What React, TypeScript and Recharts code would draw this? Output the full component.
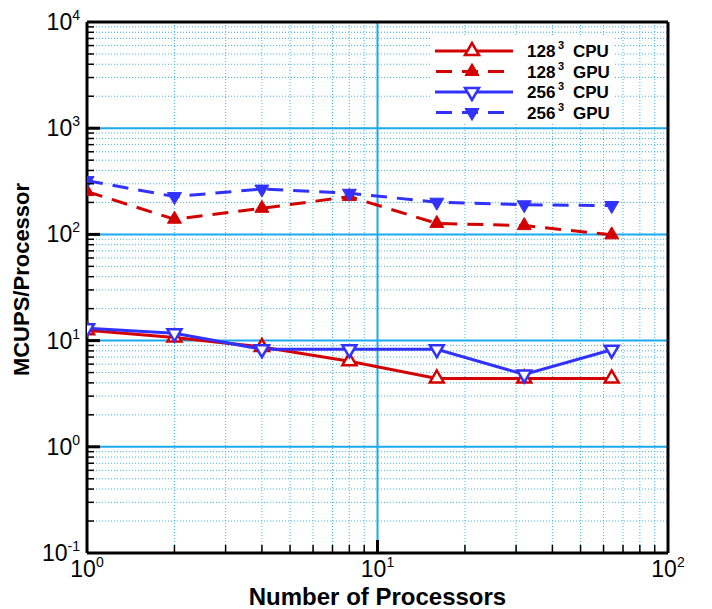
import React from 'react';
import { LineChart, Line, XAxis, YAxis, CartesianGrid } from 'recharts';

// values (log-log plot)
const processors = [1, 2, 4, 8, 16, 32, 64];
const cpu128 = [12.5, 10.7, 8.7, 6.4, 4.4, 4.4, 4.4];
const gpu128 = [253, 139, 176, 227, 127, 121, 99];
const cpu256 = [13.1, 11.7, 8.3, 8.3, 8.3, 4.8, 8.2];
const gpu256 = [321, 227, 267, 244, 201, 190, 187];

const xMajor = [1, 10, 100];
const xMinor = [2, 3, 4, 5, 6, 7, 8, 9, 20, 30, 40, 50, 60, 70, 80, 90];
const xInnerMajor = [10];
const yMajor = [0.1, 1, 10, 100, 1000, 10000];
const yInnerMajor = [1, 10, 100, 1000];
const yMinor = [
  0.2, 0.3, 0.4, 0.5, 0.6, 0.7, 0.8, 0.9,
  2, 3, 4, 5, 6, 7, 8, 9,
  20, 30, 40, 50, 60, 70, 80, 90,
  200, 300, 400, 500, 600, 700, 800, 900,
  2000, 3000, 4000, 5000, 6000, 7000, 8000, 9000,
];
const xAllTicks = [...xMajor, ...xMinor];
const yAllTicks = [...yMajor, ...yMinor];

const legendItems = [
  { size: '128', kind: 'CPU', color: '#d40000', dashed: false, up: true, filled: false },
  { size: '128', kind: 'GPU', color: '#d40000', dashed: true, up: true, filled: true },
  { size: '256', kind: 'CPU', color: '#3232ff', dashed: false, up: false, filled: false },
  { size: '256', kind: 'GPU', color: '#3232ff', dashed: true, up: false, filled: true },
];

const data = processors.map((p, i) => ({
  p,
  cpu128: cpu128[i],
  gpu128: gpu128[i],
  cpu256: cpu256[i],
  gpu256: gpu256[i],
}));

const RED = '#d40000';
const BLUE = '#3232ff';
const GRID = '#1aa9ee';
const GRID_MINOR = '#3db6f2';
const FONT = '"Liberation Sans", Arial, Helvetica, sans-serif';
const DASH = '16 10';

const triPoints = (cx: number, cy: number, up: boolean) =>
  up
    ? `${cx},${cy - 8} ${cx - 7},${cy + 4} ${cx + 7},${cy + 4}`
    : `${cx},${cy + 8} ${cx - 7},${cy - 4} ${cx + 7},${cy - 4}`;

const marker = (color: string, up: boolean, filled: boolean) => (props: any) => {
  const { cx, cy, index } = props;
  if (cx == null || cy == null) return <g key={index} />;
  return (
    <polygon
      key={index}
      points={triPoints(cx, cy, up)}
      fill={filled ? color : '#fff'}
      stroke={color}
      strokeWidth={filled ? 1 : 2.5}
      strokeLinejoin="miter"
    />
  );
};

const exponent = (v: number) => Math.round(Math.log10(v));
const isMajor = (list: number[], v: number) => list.indexOf(v) >= 0;

const Power = ({ v }: { v: number }) => (
  <>
    10<tspan dy={-10} fontSize={14}>{exponent(v)}</tspan>
  </>
);

// each tick draws its inward mark, majors also get a label
const BottomTick = (props: any) => {
  const { x, y, payload } = props;
  const v = payload.value;
  if (isMajor(xMajor, v)) {
    return (
      <g>
        {isMajor(xInnerMajor, v) && <line x1={x} x2={x} y1={y} y2={y - 13} stroke="#000" strokeWidth={3} />}
        <text x={x} y={y + 24} textAnchor="middle" fontFamily={FONT} fontSize={23} fill="#000">
          <Power v={v} />
        </text>
      </g>
    );
  }
  return <line x1={x} x2={x} y1={y} y2={y - 8} stroke="#000" strokeWidth={1.5} />;
};

const LeftTick = (props: any) => {
  const { x, y, payload } = props;
  const v = payload.value;
  if (isMajor(yMajor, v)) {
    return (
      <g>
        {isMajor(yInnerMajor, v) && <line x1={x} x2={x + 13} y1={y} y2={y} stroke="#000" strokeWidth={3} />}
        <text x={x - 7} y={y + 8} textAnchor="end" fontFamily={FONT} fontSize={23} fill="#000">
          <Power v={v} />
        </text>
      </g>
    );
  }
  return <line x1={x} x2={x + 7} y1={y} y2={y} stroke="#000" strokeWidth={1.5} />;
};

const RightTick = (props: any) => {
  const { x, y, payload } = props;
  const v = payload.value;
  if (isMajor(yMajor, v)) {
    return (
      <g>
        {isMajor(yInnerMajor, v) && <line x1={x} x2={x - 13} y1={y} y2={y} stroke="#000" strokeWidth={3} />}
        <text x={x + 11} y={y + 8} textAnchor="start" fontFamily={FONT} fontSize={23} fill="#000">
          <Power v={v} />
        </text>
      </g>
    );
  }
  return <line x1={x} x2={x - 7} y1={y} y2={y} stroke="#000" strokeWidth={1.5} />;
};

const XTitle = (props: any) => {
  const vb = props.viewBox || {};
  return (
    <text
      x={vb.x + vb.width / 2}
      y={vb.y + 52}
      textAnchor="middle"
      fontFamily={FONT}
      fontSize={24}
      fontWeight="bold"
      fill="#000"
    >
      Number of Processors
    </text>
  );
};

const YTitle = (props: any) => {
  const vb = props.viewBox || {};
  const cx = vb.x + 29;
  const cy = vb.y + vb.height / 2 - 8;
  return (
    <text
      x={cx}
      y={cy}
      transform={`rotate(-90 ${cx} ${cy})`}
      textAnchor="middle"
      fontFamily={FONT}
      fontSize={22}
      fontWeight="bold"
      fill="#000"
    >
      MCUPS/Processor
    </text>
  );
};

const Legend = () => (
  <svg
    width={182}
    height={86}
    style={{ position: 'absolute', left: 432, top: 36, background: '#fff' }}
  >
    {legendItems.map((it, i) => {
      const cy = 15 + i * 20.5;
      return (
        <g key={i}>
          <line
            x1={3}
            x2={81}
            y1={cy}
            y2={cy}
            stroke={it.color}
            strokeWidth={3}
            strokeDasharray={it.dashed ? '16 10' : undefined}
            strokeDashoffset={it.dashed ? -1 : 0}
          />
          <polygon
            points={triPoints(40, cy, it.up)}
            fill={it.filled ? it.color : '#fff'}
            stroke={it.color}
            strokeWidth={it.filled ? 1 : 2.5}
          />
          <text y={cy + 6} fontFamily={FONT} fontSize={17} fontWeight="bold" fill="#000">
            <tspan x={95}>{it.size}</tspan>
            <tspan x={126} dy={-8} fontSize={11}>3</tspan>
            <tspan x={141} dy={8}>{it.kind}</tspan>
          </text>
        </g>
      );
    })}
  </svg>
);

export default function App() {
  return (
    <div style={{ position: 'absolute', left: 0, top: 0, width: 712, height: 609, background: '#fff' }}>
      <LineChart width={712} height={609} data={data} margin={{ top: 2, right: 0, bottom: 0, left: 0 }}>
        <CartesianGrid
          xAxisId="x"
          yAxisId="y"
          horizontalValues={yMinor}
          verticalValues={xMinor}
          stroke={GRID_MINOR}
          strokeWidth={1}
          strokeDasharray="1 2"
          fill="none"
        />
        <CartesianGrid
          xAxisId="x"
          yAxisId="y"
          horizontalValues={yInnerMajor}
          verticalValues={xInnerMajor}
          stroke={GRID}
          strokeWidth={2}
          fill="none"
        />

        <XAxis
          xAxisId="x"
          dataKey="p"
          type="number"
          scale="log"
          domain={[1, 100]}
          ticks={xAllTicks}
          interval={0}
          allowDataOverflow
          height={56}
          tickSize={0}
          tickMargin={0}
          tickLine={false}
          axisLine={{ stroke: '#000', strokeWidth: 3 }}
          tick={<BottomTick />}
          label={<XTitle />}
        />
        <XAxis
          xAxisId="top"
          orientation="top"
          type="number"
          scale="log"
          domain={[1, 100]}
          ticks={xMajor}
          height={20}
          tick={false}
          tickLine={false}
          axisLine={{ stroke: '#000', strokeWidth: 3 }}
        />
        <YAxis
          yAxisId="y"
          type="number"
          scale="log"
          domain={[0.1, 10000]}
          ticks={yAllTicks}
          interval={0}
          allowDataOverflow
          width={87}
          tickSize={0}
          tickMargin={0}
          tickLine={false}
          axisLine={{ stroke: '#000', strokeWidth: 3 }}
          tick={<LeftTick />}
          label={<YTitle />}
        />
        <YAxis
          yAxisId="yr"
          orientation="right"
          type="number"
          scale="log"
          domain={[0.1, 10000]}
          ticks={yAllTicks}
          interval={0}
          width={44}
          tickSize={0}
          tickMargin={0}
          tickLine={false}
          axisLine={{ stroke: '#000', strokeWidth: 3 }}
          tick={<RightTick />}
        />

        <Line xAxisId="x" yAxisId="y" dataKey="gpu128" stroke={RED} strokeWidth={3} strokeDasharray={DASH}
          dot={marker(RED, true, true)} activeDot={false} isAnimationActive={false} />
        <Line xAxisId="x" yAxisId="y" dataKey="gpu256" stroke={BLUE} strokeWidth={3} strokeDasharray={DASH}
          dot={marker(BLUE, false, true)} activeDot={false} isAnimationActive={false} />
        <Line xAxisId="x" yAxisId="y" dataKey="cpu128" stroke={RED} strokeWidth={3}
          dot={marker(RED, true, false)} activeDot={false} isAnimationActive={false} />
        <Line xAxisId="x" yAxisId="y" dataKey="cpu256" stroke={BLUE} strokeWidth={3}
          dot={marker(BLUE, false, false)} activeDot={false} isAnimationActive={false} />
      </LineChart>
      <Legend />
    </div>
  );
}
